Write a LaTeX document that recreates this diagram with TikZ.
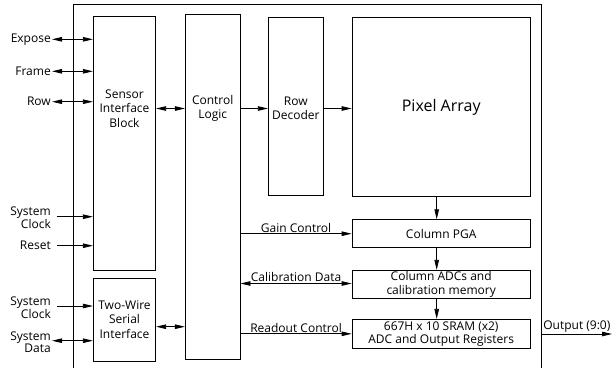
\documentclass[tikz,border=0pt]{standalone}
\usepackage{fontspec}
\setmainfont{Open Sans}
\usetikzlibrary{arrows.meta}
\begin{document}
\begin{tikzpicture}[line cap=butt,line join=miter,x=1pt,y=-1pt,
    >={Triangle[length=10pt,width=4.5pt]},
    blk/.style={draw,line width=0.8pt,inner sep=0pt},
    txt/.style={align=center,font=\fontsize{12}{14.5}\selectfont,inner sep=1pt},
    sig/.style={line width=0.8pt}]
  \useasboundingbox (0,0) rectangle (615,368);
  \draw [line width=0.8pt] (73.3,368) -- (73.3,4.3) -- (541.7,4.3) -- (541.7,368);
  % blocks
  \node [blk,minimum width=62.4pt,minimum height=254.4pt] (sib) at (124.5,143.5) {};
  \node [blk,minimum width=62.4pt,minimum height=82.6pt] (tws) at (124.5,320) {};
  \node [blk,minimum width=54.7pt,minimum height=345pt] (cl) at (212.7,187.2) {};
  \node [blk,minimum width=55pt,minimum height=178.4pt] (rd) at (295.8,106.5) {};
  \node [blk,minimum width=178.3pt,minimum height=179.4pt] (pa) at (441.2,107) {};
  \node [blk,minimum width=178.3pt,minimum height=28pt] (pga) at (441.2,233.7) {};
  \node [blk,minimum width=178.3pt,minimum height=28pt] (adc) at (441.2,284.3) {};
  \node [blk,minimum width=178.3pt,minimum height=29pt] (sram) at (441.2,333.8) {};
  % block texts
  \node [txt] at (124.5,108.5) {Sensor\\Interface\\Block};
  \node [txt] at (212.7,108.5) {Control\\Logic};
  \node [txt] at (295.8,108.5) {Row\\Decoder};
  \node [txt,font=\fontsize{16}{19}\selectfont] at (441.2,107) {Pixel Array};
  \node [txt] at (124.5,319.5) {Two-Wire\\Serial\\Interface};
  \node [txt] at (441.2,233.7) {Column PGA};
  \node [txt,font=\fontsize{12}{13.4}\selectfont] at (441.2,284.3) {Column ADCs and\\calibration memory};
  \node [txt,font=\fontsize{12}{13.4}\selectfont] at (441.2,333.8) {667H x 10 SRAM (x2)\\ADC and Output Registers};
  % external signals
  \node [txt,anchor=east] (expose) at (52,39.3) {Expose};
  \node [txt,anchor=east] (frame) at (52,71.3) {Frame};
  \node [txt,anchor=east] (row) at (52,101.7) {Row};
  \node [txt,anchor=east,align=right,font=\fontsize{12}{11.5}\selectfont] (clka) at (52,218) {System\\Clock};
  \node [txt,anchor=east] (reset) at (52,245.7) {Reset};
  \node [txt,anchor=east,align=right,font=\fontsize{12}{11.5}\selectfont] (clkb) at (52,307.5) {System\\Clock};
  \node [txt,anchor=east,align=right,font=\fontsize{12}{11.5}\selectfont] (data) at (52,342) {System\\Data};
  \draw [sig,<->] (expose.east) -- (expose.east -| sib.west);
  \draw [sig,<->] (frame.east) -- (frame.east -| sib.west);
  \draw [sig,<->] (row.east) -- (row.east -| sib.west);
  \draw [sig,->,shorten <=5pt] (clka.east |- 0,216.7) -- (sib.west |- 0,216.7);
  \draw [sig,->,shorten <=5pt] (reset.east) -- (reset.east -| sib.west);
  \draw [sig,->,shorten <=5pt] (clkb.east |- 0,306) -- (tws.west |- 0,306);
  \draw [sig,<->] (data.east |- 0,340.7) -- (tws.west |- 0,340.7);
  % internal connections
  \coordinate (mid) at (0,108.5);
  \draw [sig,<->] (sib.east |- mid) -- (cl.west |- mid);
  \draw [sig,<->] (tws.east |- 0,326.7) -- (cl.west |- 0,326.7);
  \draw [sig,->] (cl.east |- mid) -- (rd.west |- mid);
  \draw [sig,->] (rd.east |- mid) -- (pa.west |- mid);
  \draw [sig,->] (cl.east |- pga.west) -- node [txt,above] {Gain Control} (pga.west);
  \draw [sig,<->] (cl.east |- 0,283.5) -- node [txt,above] {Calibration Data} (adc.west |- 0,283.5);
  \draw [sig,->] (cl.east |- sram.west) -- node [txt,above] {Readout Control} (sram.west);
  \draw [sig,->] ([xshift=-4.5pt]pa.south) -- ([xshift=-4.5pt]pga.north);
  \draw [sig,->] ([xshift=-4.5pt]pga.south) -- ([xshift=-4.5pt]adc.north);
  \draw [sig,->] ([xshift=-4.5pt]adc.south) -- ([xshift=-4.5pt]sram.north);
  \coordinate (out) at (612,334);
  \draw [sig,->] (541.7,334) -- node [txt,above] {Output (9:0)} (out);
\end{tikzpicture}
\end{document}
